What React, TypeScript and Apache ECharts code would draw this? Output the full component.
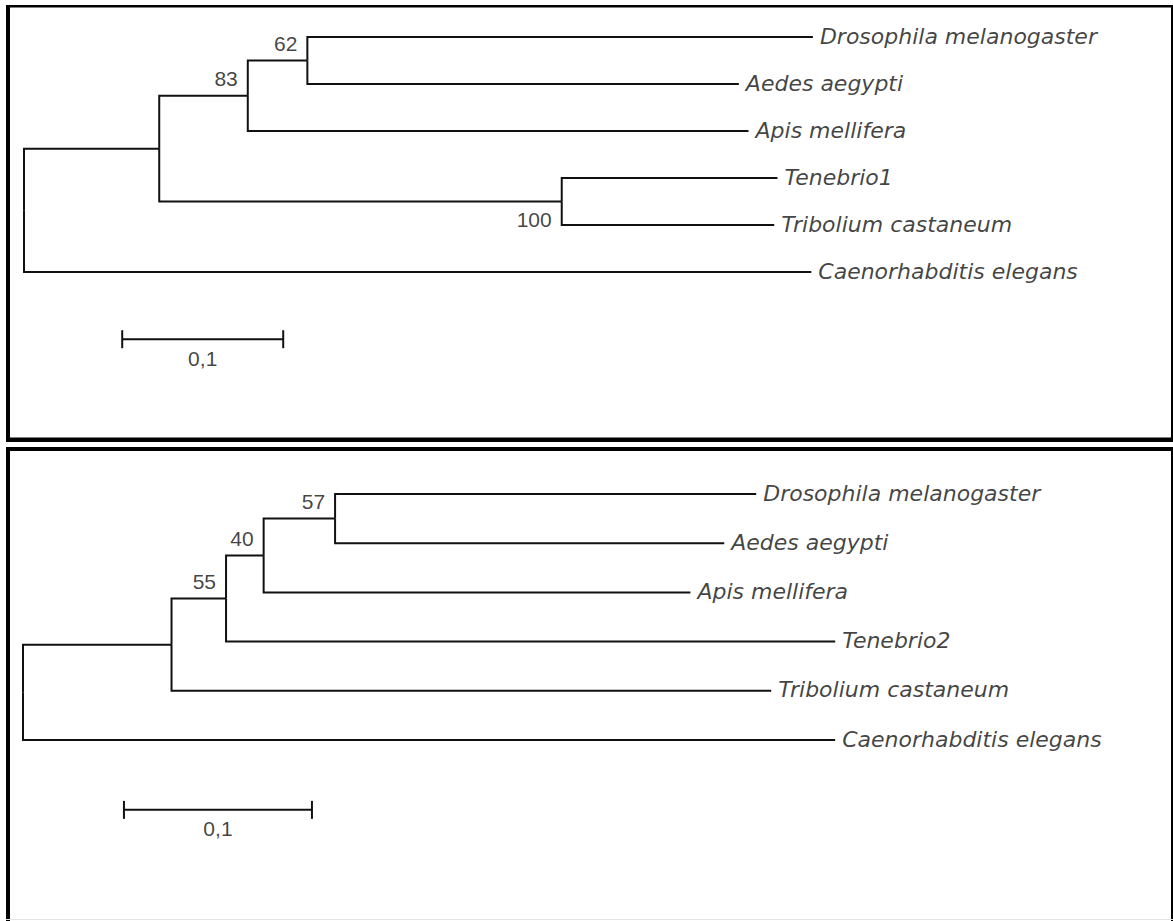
import React, { useEffect, useRef } from "react";
import * as echarts from "echarts";

// ---------- DATA ----------
// Tree 1 (top): nodes listed with parent index, branch length and bootstrap support
const tree1Nodes = ["root", "n1", "n2", "n3", "n4", "Drosophila melanogaster", "Aedes aegypti", "Apis mellifera", "Tenebrio1", "Tribolium castaneum", "Caenorhabditis elegans"];
const tree1Parents = [-1, 0, 1, 2, 1, 3, 3, 2, 4, 4, 0];
const tree1Lengths = [0, 0.084, 0.055, 0.037, 0.25, 0.314, 0.268, 0.311, 0.134, 0.132, 0.489];
const tree1Support: (number | null)[] = [null, null, 83, 62, 100, null, null, null, null, null, null];

// Tree 2 (bottom)
const tree2Nodes = ["root", "n1", "n2", "n3", "n4", "Drosophila melanogaster", "Aedes aegypti", "Apis mellifera", "Tenebrio2", "Tribolium castaneum", "Caenorhabditis elegans"];
const tree2Parents = [-1, 0, 1, 2, 3, 4, 4, 3, 2, 1, 0];
const tree2Lengths = [0, 0.079, 0.029, 0.02, 0.038, 0.224, 0.207, 0.227, 0.324, 0.319, 0.432];
const tree2Support: (number | null)[] = [null, null, 55, 40, 57, null, null, null, null, null, null];

const scaleBarLength = 0.1;
const scaleBarLabel = "0,1";

// ---------- LAYOUT / STYLE ----------
const LINE = "#111";
const TEXT = "#111";
const panels = [
  { left: 24, pxPerUnit: 1610, leaf0: 37, rowH: 47, scaleX: 0.061, scaleRow: 6.43, supportBelow: [100] },
  { left: 23, pxPerUnit: 1880, leaf0: 494, rowH: 49.2, scaleX: 0.0537, scaleRow: 6.42, supportBelow: [] as number[] },
];
const X_MAX = 0.6;
const Y_MIN = -0.5;
const Y_MAX = 7.2;

type Layout = { x: number[]; y: number[]; children: number[][] };

function layoutTree(parents: number[], lengths: number[]): Layout {
  const n = parents.length;
  const children: number[][] = Array.from({ length: n }, () => []);
  parents.forEach((p, i) => {
    if (p >= 0) children[p].push(i);
  });
  const x = new Array(n).fill(0);
  const y = new Array(n).fill(0);
  let leaf = 0;
  const visit = (i: number, depth: number) => {
    x[i] = depth;
    if (children[i].length === 0) {
      y[i] = leaf++;
    } else {
      children[i].forEach((c) => visit(c, depth + lengths[c]));
      const ys = children[i].map((c) => y[c]);
      y[i] = (Math.min(...ys) + Math.max(...ys)) / 2;
    }
  };
  visit(0, 0);
  return { x, y, children };
}

function buildSeries(
  idx: number,
  names: string[],
  parents: number[],
  lengths: number[],
  support: (number | null)[]
) {
  const P = panels[idx];
  const L = layoutTree(parents, lengths);
  const branches = parents
    .map((p, i) => (p < 0 ? null : { coords: [[L.x[p], L.y[p]], [L.x[p], L.y[i]], [L.x[i], L.y[i]]] }))
    .filter(Boolean);
  const sx = P.scaleX;
  const sy = P.scaleRow;
  const tick = 9 / P.rowH;
  const scaleLines = [
    { coords: [[sx, sy], [sx + scaleBarLength, sy]] },
    { coords: [[sx, sy - tick], [sx, sy + tick]] },
    { coords: [[sx + scaleBarLength, sy - tick], [sx + scaleBarLength, sy + tick]] },
  ];
  const leaves = names
    .map((nm, i) => (L.children[i].length === 0 ? { value: [L.x[i], L.y[i]], name: nm } : null))
    .filter(Boolean);
  const supAbove = support
    .map((s, i) => (s != null && !P.supportBelow.includes(s) ? { value: [L.x[i], L.y[i]], name: String(s) } : null))
    .filter(Boolean);
  const supBelow = support
    .map((s, i) => (s != null && P.supportBelow.includes(s) ? { value: [L.x[i], L.y[i]], name: String(s) } : null))
    .filter(Boolean);
  const common = { xAxisIndex: idx, yAxisIndex: idx, silent: true };
  const numFont = { fontFamily: "'Liberation Sans', Arial, sans-serif", fontSize: 21, color: TEXT };
  return [
    {
      ...common,
      type: "lines",
      coordinateSystem: "cartesian2d",
      polyline: true,
      clip: false,
      lineStyle: { color: LINE, width: 2, opacity: 1 },
      data: [...branches, ...scaleLines],
    },
    {
      ...common,
      type: "scatter",
      symbolSize: 0,
      data: leaves,
      label: {
        show: true,
        position: "right",
        distance: 7,
        offset: [0, -1],
        formatter: (p: any) => p.name,
        fontFamily: "'DejaVu Sans', sans-serif",
        fontStyle: "italic",
        fontSize: 22,
        color: TEXT,
      },
    },
    {
      ...common,
      type: "scatter",
      symbolSize: 0,
      data: supAbove,
      label: { show: true, position: [-10, -7], align: "right", verticalAlign: "bottom", formatter: (p: any) => p.name, ...numFont },
    },
    {
      ...common,
      type: "scatter",
      symbolSize: 0,
      data: supBelow,
      label: { show: true, position: [-10, 7], align: "right", verticalAlign: "top", formatter: (p: any) => p.name, ...numFont },
    },
    {
      ...common,
      type: "scatter",
      symbolSize: 0,
      data: [{ value: [sx + scaleBarLength / 2, sy], name: scaleBarLabel }],
      label: { show: true, position: [0, 19], align: "center", verticalAlign: "middle", formatter: (p: any) => p.name, ...numFont },
    },
  ];
}

export default function App() {
  const ref = useRef<HTMLDivElement>(null);
  useEffect(() => {
    document.body.style.margin = "0";
    if (!ref.current) return;
    const chart = echarts.init(ref.current, undefined, { renderer: "svg" });
    const grids = panels.map((P) => ({
      left: P.left,
      top: P.leaf0 + Y_MIN * P.rowH,
      width: X_MAX * P.pxPerUnit,
      height: (Y_MAX - Y_MIN) * P.rowH,
      show: false,
    }));
    const axisHidden = { show: false, splitLine: { show: false } };
    const box = (x: number, y: number, w: number, h: number, fill = "#000") => ({
      type: "rect",
      shape: { x, y, width: w, height: h },
      style: { fill },
      silent: true,
    });
    chart.setOption({
      animation: false,
      backgroundColor: "#fff",
      grid: grids,
      xAxis: panels.map((_, i) => ({ type: "value", gridIndex: i, min: 0, max: X_MAX, ...axisHidden })),
      yAxis: panels.map((_, i) => ({ type: "value", gridIndex: i, min: Y_MIN, max: Y_MAX, inverse: true, ...axisHidden })),
      series: [
        ...buildSeries(0, tree1Nodes, tree1Parents, tree1Lengths, tree1Support),
        ...buildSeries(1, tree2Nodes, tree2Parents, tree2Lengths, tree2Support),
      ],
      graphic: [
        // top panel frame
        box(6, 5, 1167, 2.5),
        box(6, 5, 4, 437),
        box(1171, 5, 2, 437),
        box(6, 437.5, 1167, 4.5),
        // bottom panel frame
        box(6, 447, 1167, 4),
        box(6, 447, 4, 474),
        box(1171, 447, 2, 474),
        box(6, 919, 1167, 1, "#e4e4e4"),
      ],
    });
    return () => chart.dispose();
  }, []);
  return <div ref={ref} style={{ width: 1173, height: 921 }} />;
}
